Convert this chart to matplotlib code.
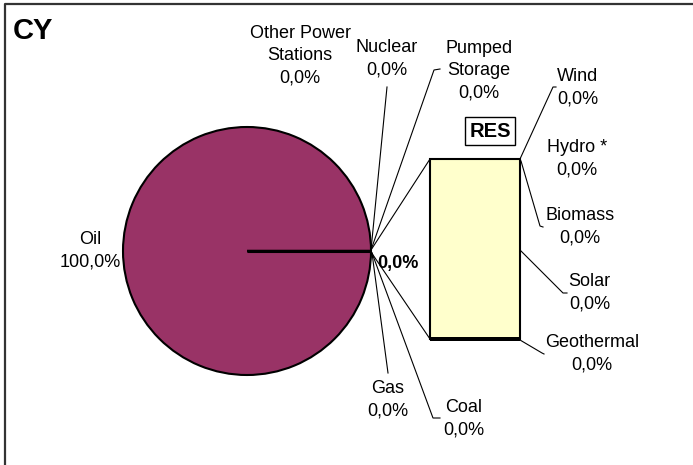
import matplotlib
matplotlib.use("Agg")
import matplotlib.pyplot as plt

plt.rcParams['font.family'] = ['Liberation Sans', 'DejaVu Sans']

# ---- data ----
title = "CY"
pie_labels = ["Oil", "Gas", "Coal", "Nuclear", "Other Power\nStations", "Pumped\nStorage", "RES"]
pie_values = [100.0, 0.0, 0.0, 0.0, 0.0, 0.0, 0.0]
res_labels = ["Wind", "Hydro *", "Biomass", "Solar", "Geothermal"]
res_values = [0.0, 0.0, 0.0, 0.0, 0.0]
res_total_label = "0,0%"

pie_color = "#993366"
bar_color = "#FFFFCC"

W, H = 693, 465
fig = plt.figure(figsize=(W / 100, H / 100), dpi=100)
ax = fig.add_axes([0, 0, 1, 1])

# pie (pixel coordinate system)
cx, cy, r = 247, 251, 124
ax.pie(pie_values, radius=r, center=(cx, cy), startangle=0,
       colors=[pie_color] + ["white"] * (len(pie_values) - 1),
       wedgeprops=dict(edgecolor="black", linewidth=1.5), frame=True)
ax.plot([cx, cx + r], [cy, cy], color="black", lw=2.2, solid_capstyle="butt")
ax.set_xlim(0, W)
ax.set_ylim(H, 0)
ax.set_aspect("equal")
ax.axis("off")

def fmt(v):
    return f"{v:.1f}".replace(".", ",") + "%"

# secondary bar (RES) in its own axes
bx0, bx1, by0, by1 = 430, 520, 159, 339
bax = fig.add_axes([bx0 / W, 1 - by1 / H, (bx1 - bx0) / W, (by1 - by0) / H])
bax.set_xlim(-0.5, 0.5)
bax.set_ylim(0, 1)
bax.axis("off")
bax.bar([0], [1.0], width=1.0, color=bar_color, edgecolor="black", linewidth=1.5, clip_on=False)
bottom = 0.0
for v in res_values:
    bax.bar([0], [v / 100.0], bottom=bottom, width=1.0, color=bar_color,
            edgecolor="black", linewidth=2.8, clip_on=False)
    bottom += v / 100.0

lk = dict(color="black", lw=0.8)
px, py = 371, 250
# connectors pie -> bar
ax.plot([px, bx0], [py, by0], **lk)
ax.plot([px, bx0], [py + 2, by1], **lk)

fs = 13
txt = dict(fontsize=fs, ha="center", va="center", linespacing=1.4)

# pie labels
ax.text(90, 251, f"{pie_labels[0]}\n{fmt(pie_values[0])}", **txt)
ax.text(300, 56, f"{pie_labels[4]}\n{fmt(pie_values[4])}", **txt)
ax.text(386.5, 59, f"{pie_labels[3]}\n{fmt(pie_values[3])}", **txt)
ax.plot([px, 387], [py, 87], **lk)
ax.text(479, 70.5, f"{pie_labels[5]}\n{fmt(pie_values[5])}", **txt)
ax.plot([px, 434, 440], [py, 70, 69], **lk)
ax.text(387.5, 399.5, f"{pie_labels[1]}\n{fmt(pie_values[1])}", **txt)
ax.plot([px + 1, 388], [py + 3, 373], **lk)
ax.text(464, 418.5, f"{pie_labels[2]}\n{fmt(pie_values[2])}", **txt)
ax.plot([px + 1, 433, 440], [py + 3, 418, 418], **lk)
ax.text(398, 263, res_total_label, fontsize=fs, fontweight="bold", ha="center", va="center")

# RES labels
ax.text(578, 87.5, f"{res_labels[0]}\n{fmt(res_values[0])}", **txt)
ax.plot([bx1, 553, 556], [by0, 87, 87], **lk)
ax.text(577, 159, f"{res_labels[1]}\n{fmt(res_values[1])}", **txt)
ax.text(580, 227, f"{res_labels[2]}\n{fmt(res_values[2])}", **txt)
ax.plot([bx1 + 1, 540, 543], [by0 + 2, 226, 227], **lk)
ax.text(589.5, 292.5, f"{res_labels[3]}\n{fmt(res_values[3])}", **txt)
ax.plot([bx1, 563, 567], [250, 293, 293], **lk)
ax.text(592, 354, f"{res_labels[4]}\n{fmt(res_values[4])}", **txt)
ax.plot([bx1, 542, 544], [by1 + 1, 353, 354], **lk)

# RES box
ax.text(490, 131, pie_labels[6], fontsize=14.5, fontweight="bold", ha="center", va="center",
        bbox=dict(boxstyle="square,pad=0.2", facecolor="white", edgecolor="black", linewidth=1.0))

# title
ax.text(13, 31, title, fontsize=21, fontweight="bold", ha="left", va="center")

# partial chart border (top and left)
ax.plot([4.5, 4.5, W + 5], [H + 5, 4, 4], color="#333333", lw=1.6, clip_on=False)

fig.savefig("out.png", dpi=100)
